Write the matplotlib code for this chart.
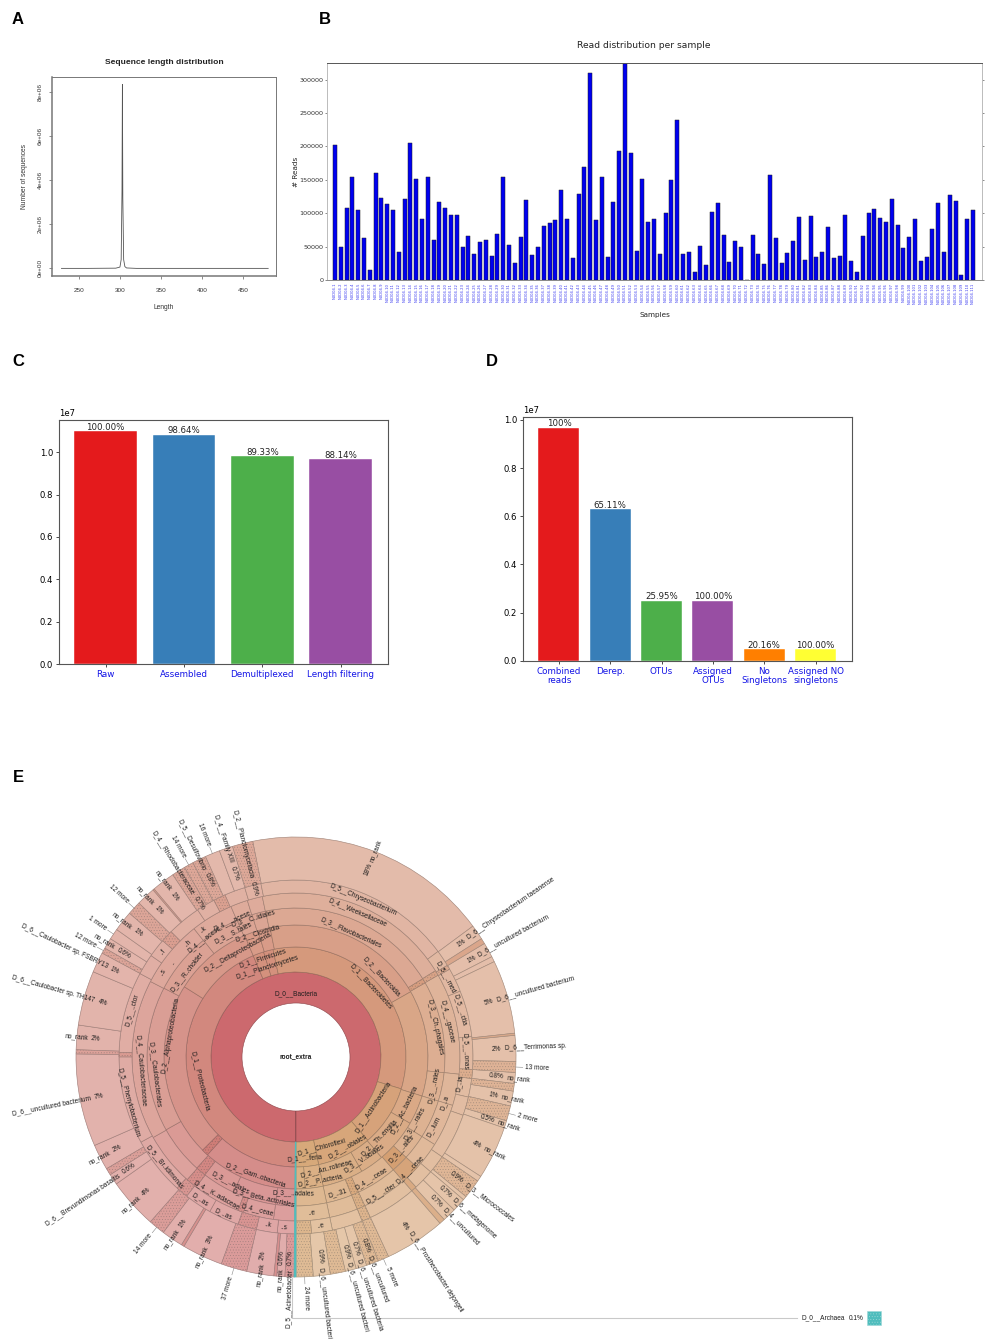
import colorsys
import math
import matplotlib
matplotlib.use("Agg")
import matplotlib.pyplot as plt
from matplotlib.patches import Wedge, Rectangle

W, H = 989, 1339

# ---------------- Panel A
LENGTHS = [229, 260, 295, 300, 301.5, 302.5, 303, 303.5, 304.5, 306, 308, 320, 400, 480]
LENGTH_COUNTS = [0, 0, 1e4, 6e4, 4e5, 3.5e6, 8.33e6, 3.2e6, 4e5, 8e4, 2e4, 0, 0, 0]

# ---------------- Panel B
READS = [202500, 50000, 108500, 154500, 105000, 62500, 15500, 161000, 122500, 113500, 105000, 41500,
         121500, 205500, 151000, 91000, 154000, 60500, 116500, 108500, 97500, 97000, 49500, 66000,
         39000, 56500, 60500, 36500, 69000, 154000, 53000, 25000, 65000, 119500, 38000, 49500,
         81000, 85500, 90000, 134500, 91000, 33500, 128500, 169500, 310000, 89500, 154000, 35000,
         116500, 192500, 330000, 190500, 43500, 152000, 87500, 91500, 39500, 100500, 150500, 239000,
         38500, 41500, 12000, 51500, 22000, 101500, 115500, 68000, 26500, 58000, 50000, 500,
         68000, 38500, 23500, 158000, 63000, 26000, 41000, 59000, 94500, 30000, 96000, 35000,
         41500, 79000, 33500, 35500, 97000, 28500, 12500, 66000, 100000, 106500, 93000, 87000,
         121000, 82000, 48000, 65000, 91000, 29000, 34500, 76500, 115000, 42500, 127500, 118000,
         7000, 91500, 105000]
SAMPLE_IDS = list(range(1, len(READS) + 1))

# ---------------- Panels C, D
C_LABELS = ["Raw", "Assembled", "Demultiplexed", "Length filtering"]
C_VALUES = [1.1006e7, 1.083e7, 0.981e7, 0.967e7]
C_TEXT = ["100.00%", "98.64%", "89.33%", "88.14%"]
D_LABELS = ["Combined\nreads", "Derep.", "OTUs", "Assigned\nOTUs", "No\nSingletons", "Assigned NO\nsingletons"]
D_VALUES = [0.968e7, 0.629e7, 0.249e7, 0.249e7, 0.0486e7, 0.0486e7]
D_TEXT = ["100%", "65.11%", "25.95%", "100.00%", "20.16%", "100.00%"]
BAR_COLORS = ["#e41a1c", "#377eb8", "#4daf4a", "#984ea3", "#ff7f00", "#ffff33"]

# ---------------- Panel E: (name, percent of reads, kind) clockwise from the bottom
RING_D0 = [("D_0__Bacteria", 99.9, "")]
RING_D1 = [("D_1__Proteobacteria", 43.5, ""), ("D_1__Firmicutes", 1.6, ""), ("D_1__Planctomycetes", 1.4, ""),
           ("D_1__Bacteroidetes", 33, ""), ("D_1__Actinobacteria", 9, ""), ("D_1__Chloroflexi", 8, ""),
           ("D_1__..feria", 3.3, "")]
RING_D2 = [("D_2__Gam..obacteria", 11.6, ""), ("", .8, "h"), ("D_2__Alphaproteobacteria", 21.4, ""),
           ("D_2__Deltaproteobacteria", 9.7, ""), ("D_2__Clostridia", 1.7, ""), ("", 1.5, ""),
           ("D_2__Bacteroidia", 19.9, ""), ("", 13, ""), ("D_2__Ac..bacteria", 3.6, ""),
           ("D_2__Th..engilia", 5.4, ""), ("D_2__..obiales", 2.9, ""), ("D_2__An..rolineae", 5, ""),
           ("D_2__P..acteria", 2.2, ""), ("", 1.1, "")]
RING_D3 = [("D_3__..adales", 2.1, ""), ("D_3__Beta..actoriales", 4.7, ""), ("D_3__..adales", 3.6, ""),
           ("", 1.1, "h"), ("", 5.3, ""), ("D_3__Caulobacterales", 15.8, ""), ("D_3__R..cholder", 6.7, ""),
           ("D_3__S..tales", 4.2, ""), ("D_3__C..idiales", 1.7, ""), ("", 1.5, ""),
           ("D_3__Flavobacteriales", 19.5, ""), ("", .5, "h"), ("D_3__Ch..phagales", 10, ""),
           ("D_3__..rales", 3.1, ""), ("D_3__..rales", 4.2, ""), ("D_3__..ales", 2.8, ""), ("", 1.9, "d"),
           ("D_3__V..obiales", 4.45, ""), ("", .8, "h"), ("", 2.8, ""), ("D_..31", 3.3, "")]
RING_D4 = [("", 2.1, ""), ("D_4__ceae", 3, ""), ("", .55, "h"), ("D_4__K..adaceae", 4.7, ""), ("", 1.1, "h"),
           ("", 5.3, ""), ("D_4__Caulobacteraceae", 15.8, ""), ("", 6.7, ""),
           ("D_4__..acese", 4.2, ""), ("D_4__..acese", 1.7, ""), ("", 1.5, ""),
           ("D_4__Weeksellaceae", 19.5, ""), ("", .5, "h"), ("D_4__..gaceae", 10, ""), ("", 3.1, ""),
           ("D_..lum", 4.2, ""), ("D_4__..ceae", 2.8, ""), ("", 1.9, "d"), ("D_4__..ceae", 4.45, ""),
           ("", .8, "h"), ("", 2.8, ""), ("..e", 3.3, "")]
RING_D5 = [("..s", 1.6, ""), ("..k", 1.9, ""), ("", 1.7, "h"), ("D_..as", 2.8, ""), ("D_..as", 2.5, ""),
           ("", 1.1, "h"), ("D_5__Br..idimonas", 5.3, ""), ("D_5__Phenylobacterium", 8, ""), ("", .4, "h"),
           ("D_5__..ctor", 7.4, ""), ("..s", 1.9, ""), ("..f", 1.7, ""), ("..", 1.1, "h"), ("..h", 3.1, ""),
           ("..k", 1.7, ""), ("", 1.1, "h"), ("", 1.9, ""), ("", 1.5, ""),
           ("D_5__Chryseobacterium", 18, ""), ("", 1.5, ""), ("", .4, "h"), ("D_5__..med", 2.2, ""),
           ("D_5__..ctia", 4.2, ""), ("D_5__..onas", 3, ""), ("", .8, "h"), ("D_..ia", 1.7, ""),
           ("D_..a", 1.7, ""), ("", 4.2, ""), ("", 1.7, ""), ("", 1.9, ""), ("", .5, "d"),
           ("D_5__..cter", 4.45, ""), ("", .8, "h"), ("", 2.8, ""), ("..e", 1.9, ""), ("", 1.4, "h")]
# (name, percent, kind, percent label)
RING_D6 = [("D_5__Acinetobacter", .7, "h", "0.7%"), ("no_rank", .6, "", "0.6%"), ("", .2, "d", ""),
           ("no_rank", 2, "", "2%"), ("37 more", 1.9, "h", ""), ("no_rank", 3, "", "3%"), ("", .2, "d", ""),
           ("no_rank", 1.6, "", "1%"), ("14 more", 1.2, "h", ""), ("no_rank", 3.7, "", "4%"),
           ("D_6__Brevundimonas basaltis", .8, "", "0.6%"), ("", .5, "h", ""), ("no_rank", 1.9, "", "2%"),
           ("D_6__uncultured bacterium", 6.8, "", "7%"), ("", .3, "h", ""), ("no_rank", 1.8, "", "2%"),
           ("D_6__Caulobacter sp. TH147", 4, "", "4%"), ("D_6__Caulobacter sp. FSBRY13", 1.5, "", "1%"),
           ("12 more", .4, "h", ""), ("no_rank", .8, "", "0.6%"), ("1 more", .8, "", ""),
           ("no_rank", 1.5, "", "1%"), ("12 more", 1, "h", ""), ("no_rank", 1.4, "", "1%"), ("", .1, "d", ""),
           ("no_rank", 1.7, "", "1%"), ("D_4__Rhodobacteraceae", 1, "h", "0.7%"), ("14 more", .7, "h", ""),
           ("D_5__Desulfovibrio", 1, "h", "0.8%"), ("16 more", 1.1, "", ""),
           ("D_4__Family XIII", 1, "", "0.7%"), ("D_2__Planctomycetacia", 1.5, "h", "0.9%"),
           ("no_rank", 18, "", "18%"), ("D_6__Chryseobacterium taeanense", 1.1, "", "1%"), ("", .4, "d", ""),
           ("D_6__uncultured bacterium", 1.1, "", "1%"), ("", .4, "", ""),
           ("D_6__uncultured bacterium", 5.4, "", "5%"), ("", .15, "d", ""),
           ("D_6__Terrimonas sp.", 1.9, "", "2%"), ("13 more", .8, "h", ""), ("no_rank", .8, "", "0.8%"),
           ("", .55, "h", ""), ("no_rank", 1.1, "", "1%"), ("2 more", 1.1, "h", ""), ("no_rank", .55, "", "0.5%"),
           ("no_rank", 3.9, "", "4%"), ("", .4, "", ""), ("D_3__Micrococcales", 1.4, "h", "0.9%"), ("", .3, "", ""),
           ("D_6__metagenome", 1, "", "0.7%"), ("D_4__uncultured", 1, "", "0.7%"), ("", .4, "d", ""),
           ("D_6__Prosthecobacter dejongeii", 4.45, "", "4%"), ("5 more", .8, "h", ""),
           ("D_6__uncultured", .9, "h", "0.8%"), ("D_6__uncultured bacteria", .8, "", "0.7%"),
           ("D_6__uncultured bacteri", .8, "", "0.9%"), ("", 1.1, "h", ""),
           ("D_6__uncultured bacteri", 1.25, "", "0.9%"), ("24 more", 1.25, "h", "")]
ARCHAEA_NAME = "D_0__Archaea"
ARCHAEA_PCT = 0.1
# radius of the percent label for the few labels that start well inside the ring
PCT_RADIUS = {"D_2__Planctomycetacia": 173, "D_4__Family XIII": 194,
              "D_4__Rhodobacteraceae": 182, "D_5__Desulfovibrio": 197}
# text placement (angle, radius) for the crowded inner labels, keyed by (ring, segment)
LABEL_AT = {(1, 0): (256, 99), (1, 1): (-18.4, 104), (1, 2): (-18, 94), (1, 3): (47, 103), (1, 4): (123, 92),
            (1, 5): (164, 94), (1, 6): (175, 102),
            (2, 0): (199, 125), (2, 2): (280, 127), (2, 3): (-29, 119), (2, 4): (-17, 130), (2, 6): (47, 117),
            (2, 8): (116, 121), (2, 9): (134, 117), (2, 10): (150, 103), (2, 11): (164.5, 116), (2, 12): (169, 126),
            (3, 0): (181, 136), (3, 1): (193, 145), (3, 2): (207.6, 142), (3, 5): (263, 142), (3, 6): (-52, 138),
            (3, 7): (-27, 139), (3, 8): (-17, 145), (3, 10): (24, 136), (3, 12): (78, 142),
            (3, 14): (119, 136), (3, 15): (131, 140), (3, 17): (146, 122), (3, 20): (163, 142),
            (4, 1): (194, 158), (4, 3): (210, 159), (4, 6): (265, 156), (4, 8): (-38, 149), (4, 9): (-25, 150),
            (4, 11): (23, 157), (4, 13): (77, 155), (4, 15): (117, 154), (4, 16): (134.5, 160), (4, 18): (148, 143),
            (5, 0): (184, 171), (5, 1): (189.5, 170), (5, 3): (205, 173), (5, 4): (214, 172), (5, 6): (230, 171),
            (5, 7): (255, 174), (5, 9): (286, 171), (5, 10): (-57.4, 158), (5, 11): (-51.7, 169), (5, 12): (-52.6, 155),
            (5, 13): (-43.5, 157), (5, 14): (-36, 157), (5, 18): (23, 171), (5, 21): (62, 170), (5, 22): (74, 171),
            (5, 23): (88, 169), (5, 25): (99, 166), (5, 26): (107, 155), (5, 31): (148, 161)}

plt.rcParams["font.family"] = ["DejaVu Sans"]
plt.rcParams["hatch.linewidth"] = 0.3
fig = plt.figure(figsize=(W / 100, H / 100), dpi=100)


def pix_ax(l, t, r, b):
    return fig.add_axes([l / W, 1 - b / H, (r - l) / W, (b - t) / H])


SANS = ["Liberation Sans"]
# ---- A
a = pix_ax(52, 77, 276, 276)
a.plot(LENGTHS, LENGTH_COUNTS, color="#555555", lw=0.6)
a.set_xlim(217.5, 489.5)
a.set_ylim(-0.345e6, 8.67e6)
a.set_xticks([250, 300, 350, 400, 450])
a.set_yticks([0, 2e6, 4e6, 6e6, 8e6])
a.set_yticklabels(["0e+00", "2e+06", "4e+06", "6e+06", "8e+06"], rotation=90, va="center", family=SANS)
for lab in a.get_xticklabels():
    lab.set_family(SANS)
a.tick_params(axis="x", labelsize=4.6, length=2.5, width=0.4, pad=6, colors="#333333")
a.tick_params(axis="y", labelsize=4.6, length=2.5, width=0.4, pad=4, colors="#333333")
for s in a.spines.values():
    s.set_color("#777777")
    s.set_linewidth(0.7)
a.spines["left"].set_linewidth(1.1)
a.spines["bottom"].set_linewidth(1.1)
a.set_title("Sequence length distribution", fontsize=6.1, fontweight="bold", family=SANS, pad=9.5, color="#222222")
a.set_xlabel("Length", fontsize=4.8, family=SANS, labelpad=8, color="#333333")
a.set_ylabel("Number of sequences", fontsize=4.8, family=SANS, labelpad=7, color="#333333")

# ---- B
b = pix_ax(327, 63, 982, 280)
x = list(range(len(READS)))
b.bar(x, READS, width=0.7, color="#0000f0", edgecolor="#202020", linewidth=0.35)
b.set_xlim(-1.38, 111.55)
b.set_ylim(0, 325000)
b.set_yticks(range(0, 300001, 50000))
b.set_xticks(x)
b.set_xticklabels([f"N0D04.{i}" for i in SAMPLE_IDS], rotation=90, fontsize=2.7, color="#3a3af0")
b.tick_params(axis="y", labelsize=4.6, length=1.5, width=0.4, pad=1, colors="#333333", right=True)
b.tick_params(axis="x", length=0, pad=2, top=True)
for s in ("left", "right"):
    b.spines[s].set_color("#bbbbbb")
b.spines["top"].set_color("#555555")
b.spines["bottom"].set_color("#888888")
for s in b.spines.values():
    s.set_linewidth(0.7)
b.set_title("Read distribution per sample", fontsize=6.6, pad=10.5, color="#222222", x=(644 - 327) / 655)
b.set_xlabel("Samples", fontsize=5.2, labelpad=6, color="#222222")
b.set_ylabel("# Reads", fontsize=5.2, labelpad=0, color="#222222")


def bar_panel(ax, labels, vals, texts, ymax, xl):
    pos = list(range(len(vals)))
    ax.bar(pos, vals, width=0.8, color=BAR_COLORS[:len(vals)], edgecolor="white", linewidth=0.3)
    ax.set_xlim(*xl)
    ax.set_ylim(0, ymax)
    ax.set_xticks(pos)
    ax.set_xticklabels(labels, color="#1414e6", fontsize=6.3, linespacing=1.05)
    ax.set_yticks([0, .2e7, .4e7, .6e7, .8e7, 1e7])
    ax.tick_params(labelsize=6.1, length=2.5, width=0.5, pad=2)
    ax.tick_params(axis="x", labelsize=6.3, labelcolor="#1414e6")
    ax.yaxis.get_offset_text().set_fontsize(6.1)
    for p, v, t in zip(pos, vals, texts):
        ax.text(p, v - 0.003e7, t, ha="center", va="bottom", fontsize=6.2, color="#222222")
    for s in ax.spines.values():
        s.set_color("#555555")
        s.set_linewidth(0.8)


bar_panel(pix_ax(59.3, 420, 387.7, 664), C_LABELS, C_VALUES, C_TEXT, 1.1525e7, (-0.592, 3.6))
bar_panel(pix_ax(523.3, 416.7, 852, 660.7), D_LABELS, D_VALUES, D_TEXT, 1.0137e7, (-0.695, 5.71))

# ---- E + overlay, in pixel coordinates
e = fig.add_axes([0, 0, 1, 1], facecolor="none")
e.set_xlim(0, W)
e.set_ylim(H, 0)
e.axis("off")
for letter, lx, ly in [("A", 18, 20), ("B", 325, 19), ("C", 18, 361), ("D", 492, 361), ("E", 18, 778)]:
    e.text(lx, ly, letter, fontsize=12, fontweight="bold", family=SANS, ha="center", va="center")

CX, CY = 296, 1057
RADII = [54, 85, 110, 132, 149, 164, 177, 220]
LIGHT = [.61, .66, .69, .72, .74, .76, .78]
START = 180 + ARCHAEA_PCT * 3.6
TXT = dict(family=SANS, fontsize=4.7, color="#1c1c1c", rotation_mode="anchor", zorder=6)


def shade(ang, level, kind):
    if level == 0:
        return (0.80, 0.41, 0.43)
    t = min(max((ang - 180) / 360, 0), 1)
    lig = LIGHT[level] - {"": 0, "h": .05, "d": .08}[kind]
    return colorsys.hls_to_rgb(t * 31 / 360, lig, .47 + .07 * t)


def edge_col(ang, level):
    c = shade(ang, level, "")
    return tuple(v * 0.72 for v in c)


def polar(ang, r):
    t = math.radians(ang - 90)
    return CX + r * math.cos(t), CY + r * math.sin(t)


def tangent_rotation(ang):
    m = ang % 360
    return 180 - m if 90 < m < 270 else (-m if m <= 90 else 360 - m)


def draw_ring(level, segs):
    total = sum(s[1] for s in segs)
    ang = START
    sweep = 360 - (START - 180)
    out = []
    for seg in segs:
        name, pct, kind = seg[:3]
        wid = pct / total * sweep
        mid = ang + wid / 2
        w = Wedge((CX, CY), RADII[level + 1], ang - 90, ang + wid - 90, width=RADII[level + 1] - RADII[level],
                  facecolor=shade(mid, level, kind), edgecolor=edge_col(mid, level), linewidth=0.45,
                  hatch="......" if kind == "h" else None, zorder=2 + (kind != ""))
        e.add_patch(w)
        out.append((seg, mid))
        ang += wid
    return out


for lev, ring in enumerate([RING_D0, RING_D1, RING_D2, RING_D3, RING_D4, RING_D5]):
    for i, (seg, mid) in enumerate(draw_ring(lev, ring)):
        if seg[0] and lev > 0:
            ang, r = LABEL_AT.get((lev, i), (mid, (RADII[lev] + RADII[lev + 1]) / 2))
            px, py = polar(ang, r)
            e.text(px, py, seg[0], rotation=tangent_rotation(ang), ha="center", va="center", **TXT)
e.text(CX, CY - 63, "D_0__Bacteria", ha="center", va="center", **TXT)
e.text(CX, CY, "root_extra", ha="center", va="center", fontweight="bold", **TXT)

for seg, mid in draw_ring(6, RING_D6):
    name, pct, kind, plabel = seg
    if not name:
        continue
    m = mid % 360
    right = m < 180
    rot = 90 - m if right else 270 - m
    ha = "left" if right else "right"
    if plabel:
        rp = PCT_RADIUS.get(name, 201)
        px, py = polar(mid, rp)
        e.text(px, py, plabel, rotation=rot, ha="center", va="center", **TXT)
        off = 8 if len(plabel) < 4 else 11
        nx, ny = polar(mid, rp + off)
        e.text(nx, ny, name, rotation=rot, ha=ha, va="center", **TXT)
    else:
        x0, y0 = polar(mid, 220)
        x1, y1 = polar(mid, 227)
        e.plot([x0, x1], [y0, y1], color="#888888", lw=0.4, zorder=5)
        nx, ny = polar(mid, 229)
        e.text(nx, ny, name, rotation=rot, ha=ha, va="center", **TXT)

# Archaea sliver, leader and label
teal = "#4fbdbd"
e.add_patch(Wedge((CX, CY), 220, 90, 90 + max(ARCHAEA_PCT, 0.14) * 3.6, width=135, facecolor=teal, edgecolor=teal,
                  linewidth=0.5, zorder=5))
e.plot([CX - 4, CX - 4, 797], [1278, 1318, 1318], color="#c9c9c9", lw=0.8, zorder=1)
e.text(801, 1318, ARCHAEA_NAME, ha="left", va="center", **TXT)
e.text(849, 1318, f"{ARCHAEA_PCT}%", ha="left", va="center", **TXT)
e.add_patch(Rectangle((867, 1311), 14, 14, facecolor=teal, edgecolor="#a0d8d8", linewidth=0.4, hatch="......"))

fig.savefig("out.png", dpi=100)
